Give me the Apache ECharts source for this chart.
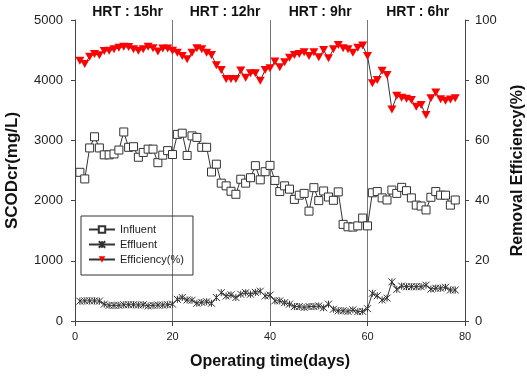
<!DOCTYPE html>
<html><head><meta charset="utf-8">
<script src="https://cdn.jsdelivr.net/npm/echarts@6/dist/echarts.min.js"></script>
<style>html,body{margin:0;padding:0;background:#fff}#c{width:527px;height:379px}</style>
</head><body><div id="c"></div>
<script>
// Operating day of each measurement
const days = [1,2,3,4,5,6,7,8,9,10,11,12,13,14,15,16,17,18,19,20,
  21,22,23,24,25,26,27,28,29,30,31,32,33,34,35,36,37,38,39,40,
  41,42,43,44,45,46,47,48,49,50,51,52,53,54,55,56,57,58,59,60,
  61,62,63,64,65,66,67,68,69,70,71,72,73,74,75,76,77,78];
// SCODcr (mg/L)
const influent = [2470,2360,2875,3060,2875,2760,2760,2775,2840,3140,2885,2895,2720,2800,2855,2855,2630,2755,2830,2765,
  3100,3120,2750,3075,3050,2885,2885,2475,2605,2290,2245,2155,2105,2355,2290,2380,2580,2345,2480,2585,
  2335,2150,2245,2190,2020,2090,2120,1825,2215,2000,2160,2060,2005,2145,1605,1565,1560,1580,1710,1580,
  2130,2150,2045,2010,2175,2120,2220,2165,2045,1925,1910,1845,2055,2150,2090,2090,1925,2010];
const effluent = [330,335,335,335,330,280,260,260,260,270,270,270,265,270,250,260,265,265,270,280,
  360,390,350,345,295,310,320,295,390,470,415,435,390,445,470,445,475,495,415,430,
  335,335,305,280,240,240,225,240,240,250,220,280,195,170,170,160,185,155,160,205,
  460,420,350,380,650,525,580,570,570,570,570,595,530,545,545,560,515,515];
// Removal efficiency (%)
const efficiency = [86.5,85.4,87.8,88.7,88.3,89.7,89.8,90.3,90.8,91.1,91.0,90.3,89.8,90.3,91.1,90.6,89.5,90.5,90.5,89.8,
  89.1,88.0,87.0,89.1,90.6,90.3,89.1,88.4,85.0,83.4,80.4,80.4,80.4,83.2,80.8,82.3,82.3,79.8,83.4,84.0,
  86.2,84.3,86.0,87.5,88.4,88.7,89.3,88.0,89.3,87.6,90.0,87.3,90.3,91.7,90.6,90.3,89.1,90.8,91.5,88.0,
  79.0,80.1,83.1,81.7,70.3,74.8,74.2,73.8,73.4,71.2,71.8,68.4,74.0,75.9,73.7,73.2,73.6,74.0];
// HRT phase labels and the day each label is centred on
const hrtLabels = ['HRT : 15hr','HRT : 12hr','HRT : 9hr','HRT : 6hr'];
const hrtCenters = [10.8, 30.8, 50.3, 70.3];
const seriesNames = ['Influent','Effluent','Efficiency(%)'];

const font = '"Liberation Sans", Arial, sans-serif';
const axisColor = '#444';
const pair = arr => days.map((d, i) => [d, arr[i]]);
const plain = v => String(v);
const chart = echarts.init(document.getElementById('c'), null, {renderer: 'canvas'});

const option = {
  animation: false,
  backgroundColor: '#fff',
  textStyle: {fontFamily: font},
  grid: {left: 75, right: 62, top: 20, bottom: 58, containLabel: false, outerBoundsMode: 'none'},
  legend: {
    data: seriesNames, orient: 'vertical', left: 81, top: 216,
    padding: [8, 9, 10, 7], itemWidth: 26, itemHeight: 8, itemGap: 4,
    borderColor: '#333', borderWidth: 1, borderRadius: 0, backgroundColor: 'transparent',
    textStyle: {fontSize: 11, color: '#222', fontFamily: font}
  },
  xAxis: {
    type: 'value', min: 0, max: 80, interval: 20,
    axisLine: {show: true, onZero: false, lineStyle: {color: axisColor, width: 1}},
    axisTick: {show: true, length: 5, lineStyle: {color: axisColor}},
    axisLabel: {fontSize: 11, color: '#222', margin: 10, fontFamily: font, formatter: plain},
    splitLine: {show: true, lineStyle: {color: '#777', width: 1}},
    name: 'Operating time(days)', nameLocation: 'middle', nameGap: 33,
    nameTextStyle: {fontSize: 16, fontWeight: 'bold', color: '#111', fontFamily: font}
  },
  yAxis: [{
    type: 'value', min: 0, max: 5000, interval: 1000, position: 'left',
    axisLine: {show: true, lineStyle: {color: axisColor, width: 1}},
    axisTick: {show: true, length: 4, lineStyle: {color: axisColor}},
    axisLabel: {fontSize: 13, color: '#222', margin: 12, fontFamily: font, formatter: plain},
    splitLine: {show: false},
    name: 'SCODcr(mg/L)', nameLocation: 'middle', nameGap: 54,
    nameTextStyle: {fontSize: 17, fontWeight: 'bold', color: '#111', fontFamily: font}
  }, {
    type: 'value', min: 0, max: 100, interval: 20, position: 'right',
    axisLine: {show: true, lineStyle: {color: axisColor, width: 1}},
    axisTick: {show: true, length: 4, lineStyle: {color: axisColor}},
    axisLabel: {fontSize: 13, color: '#222', margin: 10, fontFamily: font, formatter: plain},
    splitLine: {show: false},
    name: 'Removal Efficiency(%)', nameLocation: 'middle', nameGap: 45,
    nameTextStyle: {fontSize: 16, fontWeight: 'bold', color: '#111', fontFamily: font}
  }],
  series: [{
    name: seriesNames[0], type: 'line', yAxisIndex: 0, data: pair(influent),
    symbol: 'rect', symbolSize: 8,
    itemStyle: {color: '#fff', borderColor: '#333', borderWidth: 1},
    lineStyle: {color: '#333', width: 1}, z: 3
  }, {
    name: seriesNames[1], type: 'line', yAxisIndex: 0, data: pair(effluent),
    symbol: 'path://M0,0L10,10M10,0L0,10M5,0L5,10', symbolSize: 7,
    itemStyle: {color: '#333', borderColor: '#333', borderWidth: 1},
    lineStyle: {color: '#333', width: 1}, z: 3
  }, {
    name: seriesNames[2], type: 'line', yAxisIndex: 1, data: pair(efficiency),
    symbol: 'triangle', symbolRotate: 180, symbolSize: [9, 8],
    itemStyle: {color: '#ff0000'},
    lineStyle: {color: '#333', width: 1}, z: 4
  }]
};
chart.setOption(option);

const gridTop = 20;
chart.setOption({
  graphic: hrtLabels.map((t, i) => ({
    type: 'text',
    x: chart.convertToPixel({xAxisIndex: 0}, hrtCenters[i]),
    y: gridTop - 8,
    style: {text: t, fontSize: 14, fontWeight: 'bold', fill: '#111', fontFamily: font,
      align: 'center', verticalAlign: 'middle'}
  }))
});
</script>
</body></html>
